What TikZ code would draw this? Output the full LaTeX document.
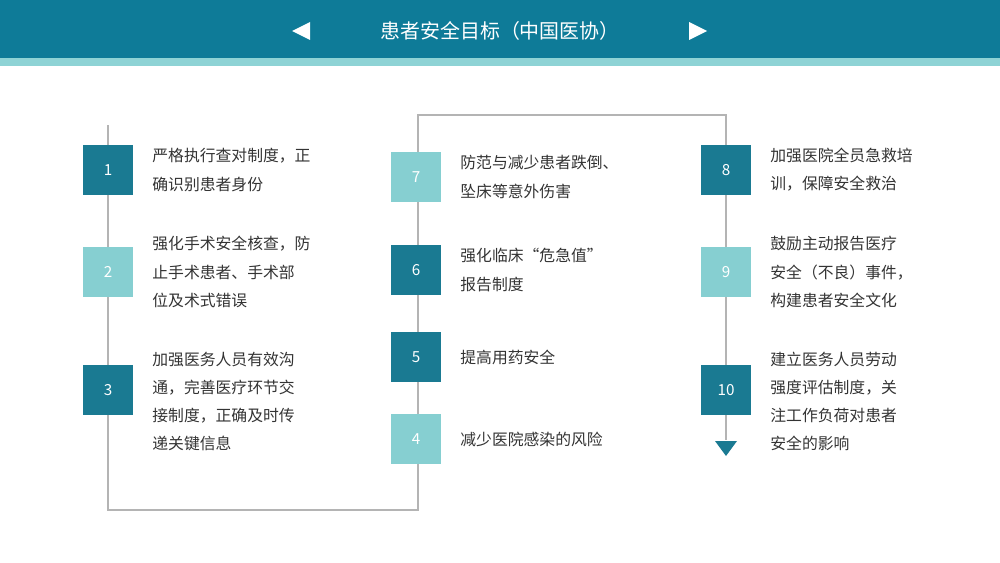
\documentclass[tikz,border=0pt]{standalone}
\usepackage{fontspec}
\setmainfont{Noto Sans CJK SC}
\usetikzlibrary{positioning}
\definecolor{deep}{HTML}{1A7A92}
\definecolor{pale}{HTML}{86CFD1}
\definecolor{band}{HTML}{0E7B98}
\definecolor{strip}{HTML}{8ED3D5}
\definecolor{wire}{HTML}{B4B4B4}
\tikzset{box/.style={minimum size=1.5cm, inner sep=0pt, text=white, font=\fontsize{13}{13}\selectfont},
darkbox/.style={box, fill=deep},
lightbox/.style={box, fill=pale},
say/.style={right=0.45cm of #1, anchor=west, align=left, text=black!80, font=\fontsize{13.5}{24}\selectfont}}

\begin{document}
\begin{tikzpicture}[x=0.03cm, y=-0.03cm]
    \useasboundingbox (0,0) rectangle (1000,563);
    \fill[band] (0,0) rectangle (1000,58);
    \fill[strip] (0,58) rectangle (1000,66);
    \node[text=white, font=\fontsize{17}{17}\selectfont] (title) at (500,31) {患者安全目标（中国医协）};
    \fill[white] (292,31) -- (310,22) -- (310,40) -- cycle;
    \fill[white] (707,31) -- (689,22) -- (689,40) -- cycle;

    % lines first
    \coordinate (top1) at (108,125);
    \coordinate (bot1) at (108,510);
    \coordinate (bot2) at (418,510);
    \coordinate (top2) at (418,115);
    \coordinate (top3) at (726,115);
    \coordinate (end3) at (726,440);
    \draw[wire, line width=1.5pt] (top1) -- (bot1) -- (bot2) -- (top2) -- (top3) -- (end3);
    \fill[deep] (715,441) -- (737,441) -- (726,456) -- cycle;

    \node[darkbox] (n1) at (108,170) {1};
    \node[lightbox] (n2) at (108,272) {2};
    \node[darkbox] (n3) at (108,390) {3};
    \node[lightbox] (n4) at (416,439) {4};
    \node[darkbox] (n5) at (416,357) {5};
    \node[darkbox] (n6) at (416,270) {6};
    \node[lightbox] (n7) at (416,177) {7};
    \node[darkbox] (n8) at (726,170) {8};
    \node[lightbox] (n9) at (726,272) {9};
    \node[darkbox] (n10) at (726,390) {10};

    \node[say=n1] (t1) {严格执行查对制度，正\\确识别患者身份};
    \node[say=n2] (t2) {强化手术安全核查，防\\止手术患者、手术部\\位及术式错误};
    \node[say=n3, yshift=-0.35cm] (t3) {加强医务人员有效沟\\通，完善医疗环节交\\接制度，正确及时传\\递关键信息};
    \node[say=n4] (t4) {减少医院感染的风险};
    \node[say=n5] (t5) {提高用药安全};
    \node[say=n6] (t6) {强化临床“危急值”\\报告制度};
    \node[say=n7] (t7) {防范与减少患者跌倒、\\坠床等意外伤害};
    \node[say=n8] (t8) {加强医院全员急救培\\训，保障安全救治};
    \node[say=n9] (t9) {鼓励主动报告医疗\\安全（不良）事件，\\构建患者安全文化};
    \node[say=n10, yshift=-0.35cm] (t10) {建立医务人员劳动\\强度评估制度，关\\注工作负荷对患者\\安全的影响};
\end{tikzpicture}
\end{document}
